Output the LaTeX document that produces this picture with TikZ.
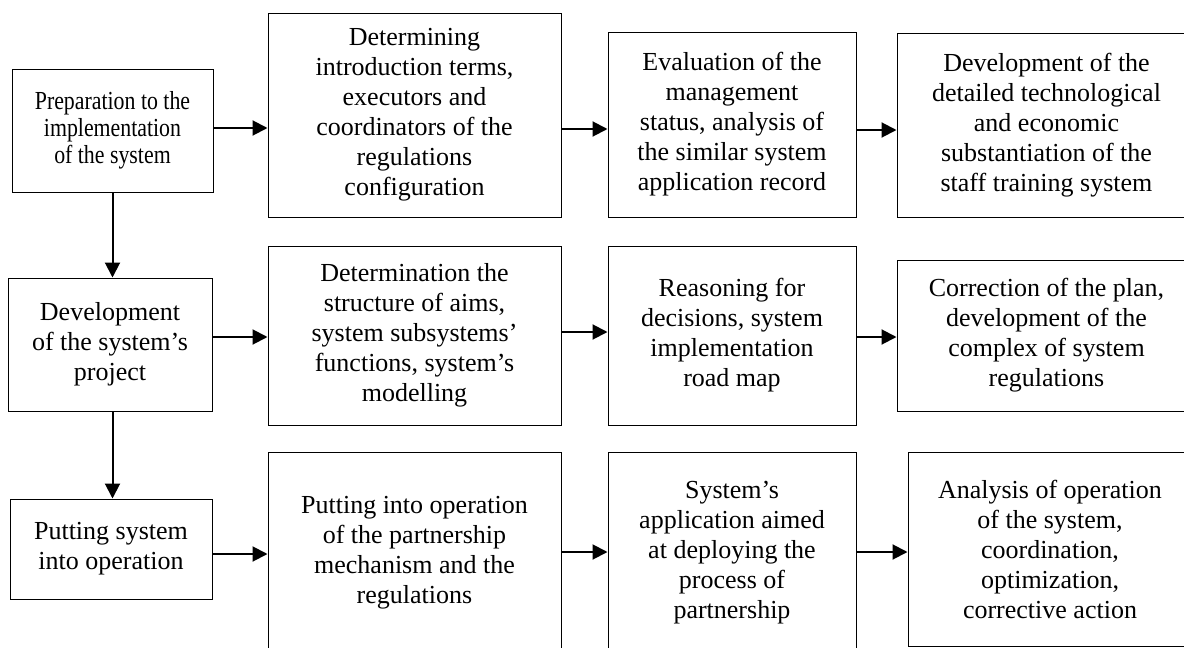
\documentclass[tikz,border=0pt]{standalone}
\usepackage{fontspec}
\setmainfont{Liberation Serif}
\newfontfamily\condfont[FakeStretch=0.84]{Liberation Serif}
\usetikzlibrary{arrows.meta}
\tikzset{
  box/.style={draw=black, line width=0.5pt, rectangle, inner sep=0pt, align=center,
    font=\fontsize{13pt}{15pt}\selectfont},
  smallbox/.style={box, font=\condfont\fontsize{13pt}{13.5pt}\selectfont},
  arr/.style={line width=1pt, -{Triangle[length=7.5pt,width=7.5pt]}}
}
\begin{document}
\begin{tikzpicture}[x=0.5pt,y=-0.5pt]
\useasboundingbox (0,0) rectangle (1184,648);
\clip (0,0) rectangle (1184,648);
% row 1
\node[smallbox, minimum width=100.5pt, minimum height=61.5pt] (A1) at (112.5,130.5)
  {Preparation to the\\implementation\\of the system};
\node[box, minimum width=146.5pt, minimum height=102pt] (B1) at (414.5,115)
  {Determining\\introduction terms,\\executors and\\coordinators of the\\regulations\\configuration};
\node[box, minimum width=124pt, minimum height=92.5pt] (C1) at (732,124.5)
  {Evaluation of the\\management\\status, analysis of\\the similar system\\application record};
\node[box, minimum width=149.5pt, minimum height=92pt] (D1) at (1046.5,125)
  {Development of the\\detailed technological\\and economic\\substantiation of the\\staff training system};
% row 2
\node[box, minimum width=102pt, minimum height=66.5pt] (A2) at (110,344.5)
  {Development\\of the system’s\\project};
\node[box, minimum width=146.5pt, minimum height=89.5pt] (B2) at (414.5,335.5)
  {Determination the\\structure of aims,\\system subsystems’\\functions, system’s\\modelling};
\node[box, minimum width=124pt, minimum height=89.5pt] (C2) at (732,335.5)
  {Reasoning for\\decisions, system\\implementation\\road map};
\node[box, minimum width=149.5pt, minimum height=75.5pt] (D2) at (1046.5,335.5)
  {Correction of the plan,\\development of the\\complex of system\\regulations};
% row 3
\node[box, minimum width=101pt, minimum height=50pt] (A3) at (111,549)
  {Putting system\\into operation};
\node[box, minimum width=146.5pt, minimum height=101pt] (B3) at (414.5,553)
  {Putting into operation\\of the partnership\\mechanism and the\\regulations};
\node[box, minimum width=124pt, minimum height=101pt] (C3) at (732,553)
  {System’s\\application aimed\\at deploying the\\process of\\partnership};
\node[box, minimum width=142pt, minimum height=97pt] (D3) at (1050,549)
  {Analysis of operation\\of the system,\\coordination,\\optimization,\\corrective action};
% arrow levels
\coordinate (r1a) at (0,128);
\coordinate (r1b) at (0,129);
\coordinate (r1c) at (0,130);
\coordinate (r2a) at (0,337);
\coordinate (r2b) at (0,332);
\coordinate (r2c) at (0,337);
\coordinate (r3a) at (0,554);
\coordinate (r3b) at (0,552);
\coordinate (r3c) at (0,552);
% horizontal arrows
\draw[arr] (A1.east |- r1a) -- (B1.west |- r1a);
\draw[arr] (B1.east |- r1b) -- (C1.west |- r1b);
\draw[arr] (C1.east |- r1c) -- (D1.west |- r1c);
\draw[arr] (A2.east |- r2a) -- (B2.west |- r2a);
\draw[arr] (B2.east |- r2b) -- (C2.west |- r2b);
\draw[arr] (C2.east |- r2c) -- (D2.west |- r2c);
\draw[arr] (A3.east |- r3a) -- (B3.west |- r3a);
\draw[arr] (B3.east |- r3b) -- (C3.west |- r3b);
\draw[arr] (C3.east |- r3c) -- (D3.west |- r3c);
% vertical arrows
\draw[arr] (A1.south) -- (A1.south |- A2.north);
\draw[arr] (A1.south |- A2.south) -- (A1.south |- A3.north);
\end{tikzpicture}
\end{document}
